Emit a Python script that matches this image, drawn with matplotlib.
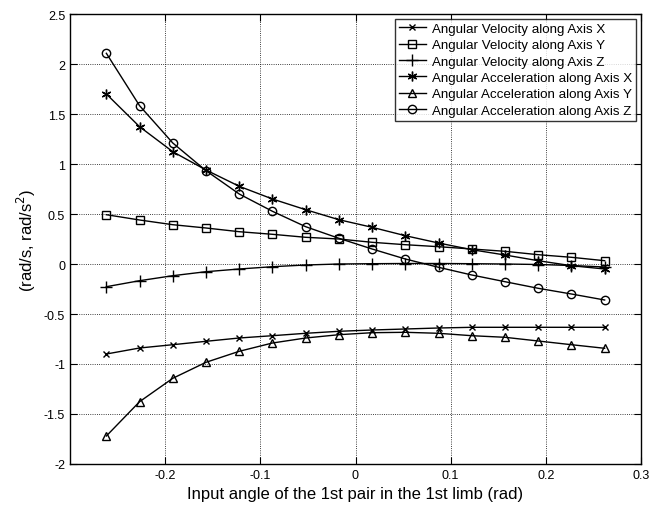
import numpy as np
import matplotlib
matplotlib.use("Agg")
import matplotlib.pyplot as plt

angles_deg = [-15, -13, -11, -9, -7, -5, -3, -1, 1, 3, 5, 7, 9, 11, 13, 15]
x = np.deg2rad(angles_deg)

vel_x = [-0.90, -0.84, -0.807, -0.773, -0.74, -0.717, -0.693, -0.673,
         -0.66, -0.65, -0.64, -0.633, -0.633, -0.633, -0.633, -0.633]
vel_y = [0.493, 0.44, 0.393, 0.36, 0.323, 0.297, 0.267, 0.25,
         0.217, 0.193, 0.173, 0.15, 0.127, 0.093, 0.067, 0.033]
vel_z = [-0.227, -0.167, -0.117, -0.077, -0.05, -0.027, -0.01, 0.0,
         0.003, 0.005, 0.005, 0.003, 0.0, -0.005, -0.015, -0.03]
acc_x = [1.70, 1.373, 1.123, 0.94, 0.777, 0.65, 0.543, 0.443,
         0.367, 0.283, 0.21, 0.143, 0.09, 0.033, -0.017, -0.05]
acc_y = [-1.72, -1.377, -1.143, -0.983, -0.873, -0.79, -0.74, -0.707,
         -0.687, -0.683, -0.693, -0.717, -0.733, -0.77, -0.807, -0.843]
acc_z = [2.107, 1.583, 1.21, 0.933, 0.70, 0.527, 0.373, 0.257,
         0.15, 0.05, -0.033, -0.11, -0.177, -0.243, -0.30, -0.36]

labels = ["Angular Velocity along Axis X", "Angular Velocity along Axis Y",
          "Angular Velocity along Axis Z", "Angular Acceleration along Axis X",
          "Angular Acceleration along Axis Y", "Angular Acceleration along Axis Z"]
series = [vel_x, vel_y, vel_z, acc_x, acc_y, acc_z]
markers = ["x", "s", "+", (6, 2, 0), "^", "o"]
msizes = [5, 6, 8, 7, 6, 6]

xticks = [-0.2, -0.1, 0, 0.1, 0.2, 0.3]
yticks = [-2, -1.5, -1, -0.5, 0, 0.5, 1, 1.5, 2, 2.5]

plt.rcParams['font.family'] = ['Liberation Sans', 'DejaVu Sans']
fig = plt.figure(figsize=(6.49, 5.10), dpi=100)
ax = fig.add_axes([70/649, 45/510, 571/649, 450/510])

for ys, lab, m, ms in zip(series, labels, markers, msizes):
    ax.plot(x, ys, color='black', linewidth=1.0, marker=m, markersize=ms,
            markerfacecolor='none', markeredgecolor='black', markeredgewidth=1.0,
            label=lab)

ax.set_xlim(-0.3, 0.3)
ax.set_ylim(-2, 2.5)
ax.set_xticks(xticks)
ax.set_xticklabels([f"{t:g}" for t in xticks])
ax.set_yticks(yticks)
ax.set_yticklabels([f"{t:g}" for t in yticks])
ax.grid(True, linestyle=':', color='black', linewidth=0.6)
ax.tick_params(direction='in', top=True, right=True, labelsize=9, length=5)
for s in ax.spines.values():
    s.set_linewidth(1.0)

ax.set_xlabel("Input angle of the 1st pair in the 1st limb (rad)", fontsize=12)
ax.set_ylabel("(rad/s, rad/s$^2$)", fontsize=12)

leg = ax.legend(loc='upper right', fontsize=9.6, frameon=True, fancybox=False,
                edgecolor='black', handlelength=2.0, labelspacing=0.3,
                borderpad=0.3, handletextpad=0.5, borderaxespad=0.35)
leg.get_frame().set_linewidth(1.0)

fig.savefig("out.png", dpi=100)
